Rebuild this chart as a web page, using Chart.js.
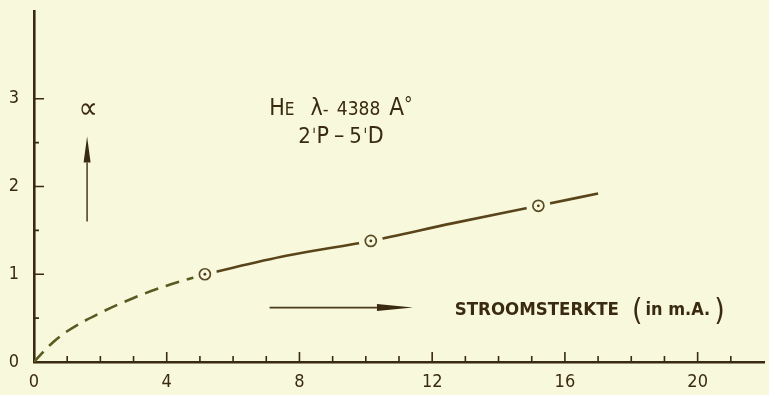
<!DOCTYPE html>
<html>
<head>
<meta charset="utf-8">
<script src="https://cdn.jsdelivr.net/npm/chart.js@4.4.1/dist/chart.umd.min.js"></script>
<style>
  html, body { margin: 0; padding: 0; background: #f8f9dc; }
  #wrap { width: 769px; height: 395px; }
</style>
</head>
<body>
<div id="wrap"><canvas id="chart" width="769" height="395"></canvas></div>
<script>
// stroomsterkte (mA) vs alpha
const measuredX = [5.15, 10.15, 15.2];
const measuredY = [1.0, 1.38, 1.78];

// extrapolated part towards the origin (dashed)
const dashX = [0, 0.5, 1, 2, 3, 4, 5.15];
const dashY = [0, 0.2, 0.35, 0.56, 0.73, 0.87, 1.0];

// fitted curve through the measurements (solid)
const curveX = [5.15, 7.6, 10.15, 12.6, 15.2, 17];
const curveY = [1.0, 1.21, 1.38, 1.58, 1.78, 1.92];

const xTicks = [0, 4, 8, 12, 16, 20];
const yTicks = [0, 1, 2, 3];

const ink = '#3a2a12';
const paper = '#f8f9dc';
const font = '"DejaVu Sans Condensed", "DejaVu Sans", sans-serif';

const pts = (xs, ys) => xs.map((x, i) => ({ x, y: ys[i] }));

// inward tick marks on both axes
const tickMarks = {
  id: 'tickMarks',
  afterDatasetsDraw(chart) {
    const { ctx, scales: { x, y } } = chart;
    ctx.save();
    ctx.strokeStyle = ink;
    ctx.lineWidth = 1.6;
    ctx.beginPath();
    for (let v = 1; v <= 21; v++) {
      const px = x.getPixelForValue(v);
      const len = v % 4 === 0 ? 10 : 6;
      ctx.moveTo(px, y.bottom);
      ctx.lineTo(px, y.bottom - len);
    }
    for (let v = 0.5; v <= 3; v += 0.5) {
      const py = y.getPixelForValue(v);
      const len = Number.isInteger(v) ? 10 : 5;
      ctx.moveTo(x.left, py);
      ctx.lineTo(x.left + len, py);
    }
    ctx.stroke();
    ctx.restore();
  }
};

// text made of runs with different sizes, centred or left aligned
function drawRuns(ctx, runs, px, py, align) {
  let total = 0;
  runs.forEach(r => {
    ctx.font = `${r.w || 'normal'} ${r.size}px ${font}`;
    r.width = ctx.measureText(r.t).width + (r.gap || 0);
    total += r.width;
  });
  let cx = align === 'center' ? px - total / 2 : px;
  ctx.textBaseline = 'alphabetic';
  ctx.textAlign = 'left';
  runs.forEach(r => {
    ctx.font = `${r.w || 'normal'} ${r.size}px ${font}`;
    ctx.fillText(r.t, cx, py + (r.dy || 0));
    cx += r.width;
  });
}

function arrow(ctx, x0, y0, x1, y1, headLen, headHalf) {
  const ang = Math.atan2(y1 - y0, x1 - x0);
  const bx = x1 - Math.cos(ang) * headLen;
  const by = y1 - Math.sin(ang) * headLen;
  ctx.beginPath();
  ctx.moveTo(x0, y0);
  ctx.lineTo(bx, by);
  ctx.stroke();
  ctx.beginPath();
  ctx.moveTo(x1, y1);
  ctx.lineTo(bx + Math.sin(ang) * headHalf, by - Math.cos(ang) * headHalf);
  ctx.lineTo(bx - Math.sin(ang) * headHalf, by + Math.cos(ang) * headHalf);
  ctx.closePath();
  ctx.fill();
}

// captions and arrows, placed in data units
const captions = {
  id: 'captions',
  afterDraw(chart) {
    const { ctx, scales: { x, y } } = chart;
    ctx.save();
    ctx.fillStyle = ink;
    ctx.strokeStyle = '#4a3a1a';
    ctx.lineWidth = 1.5;

    // alpha with upward arrow
    arrow(ctx, x.getPixelForValue(1.6), y.getPixelForValue(1.6),
          x.getPixelForValue(1.6), y.getPixelForValue(2.57), 26, 3.5);
    ctx.font = `normal 30px ${font}`;
    ctx.textAlign = 'center';
    ctx.textBaseline = 'middle';
    ctx.fillText('\u221D', x.getPixelForValue(1.63), y.getPixelForValue(2.87));

    // spectral line
    const cx = x.getPixelForValue(9.25);
    drawRuns(ctx, [
      { t: 'H', size: 23 }, { t: 'E', size: 17, gap: 16 },
      { t: '\u03BB', size: 23 }, { t: '- ', size: 18, gap: 3 },
      { t: '4388', size: 19, gap: 9 }, { t: 'A', size: 24 },
      { t: '\u00B0', size: 19, dy: -4 }
    ], cx, y.getPixelForValue(2.81), 'center');
    drawRuns(ctx, [
      { t: '2', size: 22, gap: 1 }, { t: '\u02C8', size: 19, gap: 0 }, { t: 'P', size: 23, gap: 5 },
      { t: '\u2013', size: 23, gap: 5 }, { t: '5', size: 22, gap: 1 }, { t: '\u02C8', size: 19, gap: 0 },
      { t: 'D', size: 23 }
    ], cx, y.getPixelForValue(2.5), 'center');

    // current axis caption
    ctx.strokeStyle = '#4a3a1a';
    ctx.lineWidth = 1.6;
    arrow(ctx, x.getPixelForValue(7.1), y.getPixelForValue(0.62),
          x.getPixelForValue(11.42), y.getPixelForValue(0.62), 36, 3.5);
    const ly = y.getPixelForValue(0.53);
    drawRuns(ctx, [
      { t: 'STROOMSTERKTE', size: 18.5, w: 'bold', gap: 13 },
      { t: '(', size: 30, dy: 5, gap: 3 },
      { t: 'in m.A.', size: 18, w: 'bold', gap: 4 },
      { t: ')', size: 30, dy: 5 }
    ], x.getPixelForValue(12.68), ly, 'left');
    ctx.restore();
  }
};

// keep label padding from shrinking the plot area
const noEdgePadding = s => {
  s.paddingTop = 0;
  s.paddingBottom = 0;
  s.paddingLeft = 0;
  s.paddingRight = 0;
};

new Chart(document.getElementById('chart'), {
  type: 'scatter',
  data: {
    datasets: [
      {
        data: pts(dashX, dashY),
        showLine: true,
        borderColor: '#5b5a22',
        borderWidth: 2.6,
        borderDash: [14, 8],
        pointRadius: 0,
        tension: 0.4,
        cubicInterpolationMode: 'monotone',
        order: 5
      },
      {
        data: pts(curveX, curveY),
        showLine: true,
        borderColor: '#5a441a',
        borderWidth: 2.6,
        pointRadius: 0,
        tension: 0.4,
        cubicInterpolationMode: 'monotone',
        order: 4
      },
      {
        // clear gap around each measured point
        data: pts(measuredX, measuredY),
        pointRadius: 12,
        pointBorderWidth: 0,
        pointBackgroundColor: paper,
        order: 3
      },
      {
        data: pts(measuredX, measuredY),
        pointRadius: 5.5,
        pointBorderWidth: 1.7,
        pointBorderColor: '#5a4a24',
        pointBackgroundColor: paper,
        order: 2
      },
      {
        data: pts(measuredX, measuredY),
        pointRadius: 1.4,
        pointBorderWidth: 0,
        pointBackgroundColor: '#4a3a1a',
        order: 1
      }
    ]
  },
  options: {
    responsive: false,
    animation: false,
    events: [],
    layout: { autoPadding: false, padding: { top: 11, right: 5, left: 0, bottom: 0 } },
    plugins: { legend: { display: false }, tooltip: { enabled: false } },
    scales: {
      x: {
        type: 'linear',
        min: 0,
        max: 22,
        afterFit: s => { s.height = 33; noEdgePadding(s); },
        afterBuildTicks: s => { s.ticks = xTicks.map(v => ({ value: v })); },
        grid: { display: false, drawTicks: false },
        border: { display: true, color: ink, width: 2.6 },
        ticks: { color: ink, padding: 10, font: { family: font, size: 18 } }
      },
      y: {
        type: 'linear',
        min: 0,
        max: 4,
        afterFit: s => { s.width = 34; noEdgePadding(s); },
        afterBuildTicks: s => { s.ticks = yTicks.map(v => ({ value: v })); },
        grid: { display: false, drawTicks: false },
        border: { display: true, color: ink, width: 2.6 },
        ticks: { color: ink, padding: 15, font: { family: font, size: 18 } }
      }
    }
  },
  plugins: [tickMarks, captions]
});
</script>
</body>
</html>
